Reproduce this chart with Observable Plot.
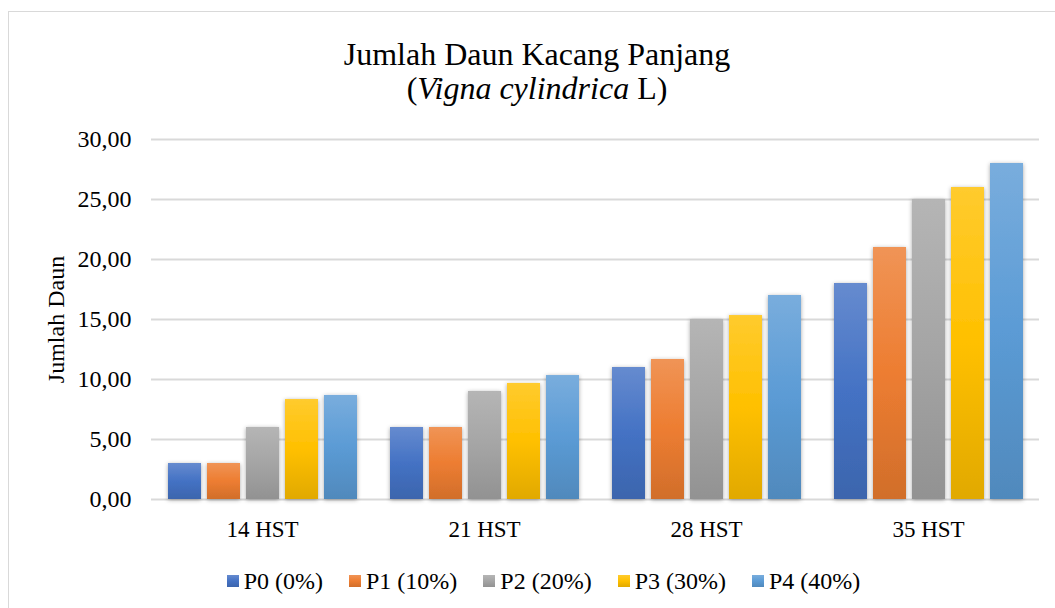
<!DOCTYPE html>
<html><head><meta charset="utf-8">
<script src="https://cdn.jsdelivr.net/npm/d3@7"></script>
<script src="https://cdn.jsdelivr.net/npm/@observablehq/plot@0.6"></script>
<style>
body{margin:0;width:1055px;height:608px;overflow:hidden;background:#fff;font-family:"Liberation Serif","Times New Roman",serif;position:relative}
#frame{position:absolute;left:8px;top:11px;width:1080px;height:640px;border:1.5px solid #d9d9d9;box-sizing:border-box}
.t{position:absolute;left:0;width:1074px;text-align:center;font-size:32px;color:#000;line-height:32px;white-space:nowrap}
#t1{top:38px}
#t2{top:72px}
#chart{position:absolute;left:0;top:110px}
#legend{position:absolute;left:0;width:1087px;top:567px;display:flex;justify-content:center;gap:26px;font-size:24px;line-height:28px;color:#000}
.item{display:flex;align-items:center;gap:5px}
.sw{width:12px;height:12px;display:inline-block}
</style></head>
<body>
<div id="frame"></div>
<div class="t" id="t1">Jumlah Daun Kacang Panjang</div>
<div class="t" id="t2">(<i>Vigna cylindrica</i> L)</div>
<div id="chart"></div>
<div id="legend"></div>
<script>
const categories = ["14 HST", "21 HST", "28 HST", "35 HST"];
const series = ["P0 (0%)", "P1 (10%)", "P2 (20%)", "P3 (30%)", "P4 (40%)"];
const P0 = [3.00, 6.00, 11.00, 18.00];
const P1 = [3.00, 6.00, 11.67, 21.00];
const P2 = [6.00, 9.00, 15.00, 25.00];
const P3 = [8.33, 9.67, 15.33, 26.00];
const P4 = [8.67, 10.33, 17.00, 28.00];
const yTicks = [0, 5, 10, 15, 20, 25, 30];
const baseColors = ["#4472C4", "#ED7D31", "#A5A5A5", "#FFC000", "#5B9BD5"];

const values = [P0, P1, P2, P3, P4];
const data = [];
categories.forEach((c, ci) => {
  series.forEach((s, si) => {
    data.push({hst: c, series: s, si, value: values[si][ci]});
  });
});

function stops(base) {
  const top = d3.interpolateRgb(base, "#ffffff")(0.18);
  const bot = d3.color(base).darker(0.35).formatHex();
  return [top, base, bot];
}

const plot = Plot.plot({
  width: 1055,
  height: 440,
  marginTop: 29,
  marginBottom: 51,
  marginLeft: 151,
  marginRight: 16,
  style: {fontFamily: '"Liberation Serif","Times New Roman",serif', fontSize: "24px", color: "#000", background: "transparent"},
  fx: {domain: categories, padding: 0},
  x: {domain: series, paddingInner: 0.165, paddingOuter: 0.405, axis: null},
  y: {domain: [0, 30]},
  color: {type: "identity"},
  marks: [
    Plot.gridY(yTicks, {stroke: "#d9d9d9", strokeOpacity: 1, strokeWidth: 2}),
    Plot.barY(data, {fx: "hst", x: "series", y: "value", fill: d => `url(#grad${d.si})`}),
    Plot.axisY({ticks: yTicks, tickFormat: d => d.toFixed(2).replace(".", ","), tickSize: 0, tickPadding: 20, label: "Jumlah Daun", labelAnchor: "center", labelOffset: 105, labelArrow: "none"}),
    Plot.axisFx({anchor: "bottom", tickSize: 0, tickPadding: 21, label: null, fontSize: 23})
  ]
});

const svg = plot.tagName.toLowerCase() === "svg" ? plot : plot.querySelector("svg");
const ns = "http://www.w3.org/2000/svg";
const defs = document.createElementNS(ns, "defs");
baseColors.forEach((b, i) => {
  const g = document.createElementNS(ns, "linearGradient");
  g.setAttribute("id", "grad" + i);
  g.setAttribute("x1", "0"); g.setAttribute("y1", "0");
  g.setAttribute("x2", "0"); g.setAttribute("y2", "1");
  const st = stops(b);
  [0, 0.5, 1].forEach((o, k) => {
    const s = document.createElementNS(ns, "stop");
    s.setAttribute("offset", o);
    s.setAttribute("stop-color", st[k]);
    g.appendChild(s);
  });
  defs.appendChild(g);
});
const f = document.createElementNS(ns, "filter");
f.setAttribute("id", "shadow");
f.setAttribute("x", "-30%"); f.setAttribute("y", "-10%");
f.setAttribute("width", "160%"); f.setAttribute("height", "120%");
const ds = document.createElementNS(ns, "feDropShadow");
ds.setAttribute("dx", "0"); ds.setAttribute("dy", "1");
ds.setAttribute("stdDeviation", "2.2");
ds.setAttribute("flood-color", "#000"); ds.setAttribute("flood-opacity", "0.35");
f.appendChild(ds);
defs.appendChild(f);
svg.insertBefore(defs, svg.firstChild);
svg.querySelectorAll("g[aria-label='bar']").forEach(g => g.setAttribute("filter", "url(#shadow)"));

document.getElementById("chart").appendChild(plot);

const legend = document.getElementById("legend");
series.forEach((s, i) => {
  const st = stops(baseColors[i]);
  const item = document.createElement("div");
  item.className = "item";
  const sw = document.createElement("span");
  sw.className = "sw";
  sw.style.background = `linear-gradient(${st[0]}, ${st[1]}, ${st[2]})`;
  const tx = document.createElement("span");
  tx.textContent = s;
  item.appendChild(sw);
  item.appendChild(tx);
  legend.appendChild(item);
});
</script>
</body></html>
